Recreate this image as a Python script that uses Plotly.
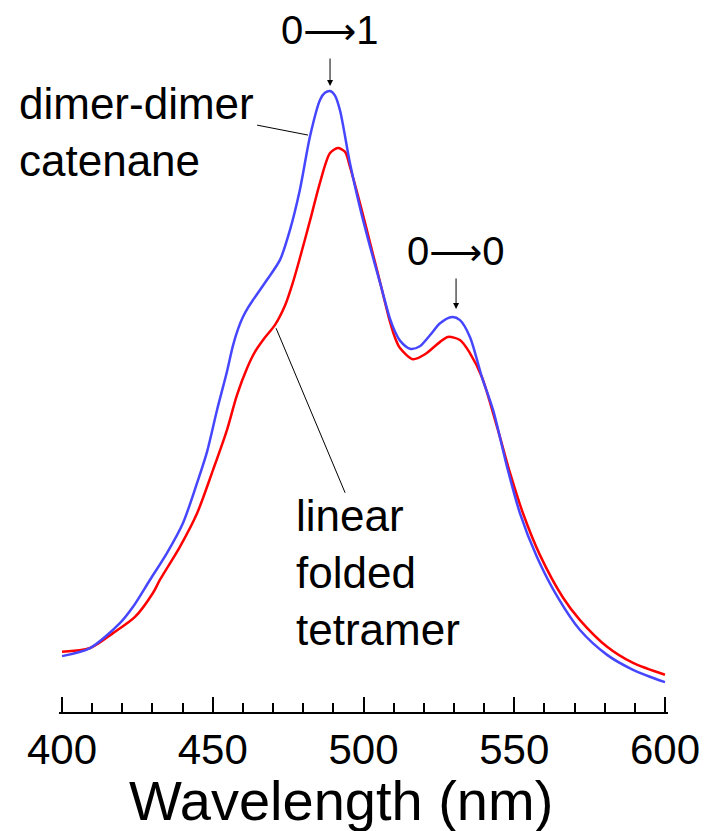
import plotly.graph_objects as go

# Emission spectra (normalised intensity vs wavelength, nm)
wl_catenane = [400.0, 409.3, 419.2, 423.5, 429.2, 434.8, 440.1, 444.8, 448.1, 451.4,
               454.7, 456.7, 458.4, 460.0, 461.7, 463.3, 468.0, 472.3, 475.6, 478.9,
               482.3, 485.6, 487.2, 488.9, 490.5, 492.2, 495.5, 498.8, 502.2, 505.5,
               508.8, 510.5, 512.1, 515.4, 518.7, 522.1, 525.4, 529.4, 532.0, 535.3,
               539.3, 543.0, 547.6, 551.9, 557.5, 564.5, 571.8, 580.8, 589.4, 600.0]
int_catenane = [0.090, 0.103, 0.143, 0.169, 0.213, 0.256, 0.304, 0.369, 0.419, 0.486,
                0.548, 0.590, 0.617, 0.636, 0.651, 0.663, 0.696, 0.728, 0.776, 0.841,
                0.928, 0.986, 0.997, 1.000, 0.993, 0.969, 0.884, 0.813, 0.749, 0.691,
                0.633, 0.612, 0.598, 0.585, 0.589, 0.607, 0.626, 0.636, 0.631, 0.604,
                0.539, 0.486, 0.395, 0.320, 0.250, 0.184, 0.132, 0.092, 0.068, 0.048]

wl_tetramer = [400.0, 409.3, 416.9, 424.2, 430.2, 432.5, 439.1, 444.8, 450.1, 454.7,
               458.0, 461.4, 464.0, 467.3, 470.6, 474.0, 476.6, 478.9, 482.3, 485.6,
               488.9, 491.5, 493.9, 495.5, 498.8, 502.2, 505.5, 508.8, 510.5, 512.1,
               516.4, 520.4, 525.4, 528.0, 532.0, 535.3, 539.3, 544.3, 548.6, 552.9,
               558.5, 566.2, 571.8, 580.8, 589.4, 600.0]
int_tetramer = [0.097, 0.103, 0.127, 0.153, 0.192, 0.213, 0.266, 0.320, 0.390, 0.454,
                0.510, 0.554, 0.580, 0.603, 0.623, 0.655, 0.692, 0.731, 0.792, 0.853,
                0.900, 0.908, 0.902, 0.878, 0.820, 0.755, 0.692, 0.628, 0.602, 0.586,
                0.568, 0.576, 0.596, 0.604, 0.599, 0.578, 0.539, 0.459, 0.385, 0.320,
                0.253, 0.184, 0.148, 0.105, 0.079, 0.060]

FONT = "Liberation Sans, Arial, Helvetica, sans-serif"
ARROW = "<span style='font-family:DejaVu Sans;font-size:37px'>\u27f6</span>"

fig = go.Figure()
fig.add_trace(go.Scatter(x=wl_tetramer, y=int_tetramer, mode="lines",
                         line=dict(color="#ff0000", width=2.5, shape="spline", smoothing=0.8),
                         name="linear folded tetramer"))
fig.add_trace(go.Scatter(x=wl_catenane, y=int_catenane, mode="lines",
                         line=dict(color="#4646ff", width=2.5, shape="spline", smoothing=0.8),
                         name="dimer-dimer catenane"))

# Vibronic band labels with arrows
fig.add_annotation(x=488.9, y=1.008, ax=0, ay=-29, text="", showarrow=True,
                   arrowhead=2, arrowsize=1.2, arrowwidth=1, arrowcolor="black")
fig.add_annotation(x=488.9, y=1.098, text="0" + ARROW + "1", showarrow=False,
                   font=dict(family=FONT, size=40, color="black"),
                   xanchor="center", yanchor="middle")
fig.add_annotation(x=530.7, y=0.649, ax=0, ay=-32, text="", showarrow=True,
                   arrowhead=2, arrowsize=1.2, arrowwidth=1, arrowcolor="black")
fig.add_annotation(x=530.7, y=0.741, text="0" + ARROW + "0", showarrow=False,
                   font=dict(family=FONT, size=40, color="black"),
                   xanchor="center", yanchor="middle")

# Curve labels and their leader lines
fig.add_annotation(xref="paper", yref="y", x=-0.069, y=0.934,
                   text="dimer-dimer<br>catenane", showarrow=False,
                   font=dict(family=FONT, size=44, color="black"),
                   xanchor="left", yanchor="middle", align="left")
fig.add_shape(type="line", x0=464.7, y0=0.945, x1=481.6, y1=0.929,
              line=dict(color="black", width=1))
fig.add_annotation(x=477.0, y=0.225, text="linear<br>folded<br>tetramer", showarrow=False,
                   font=dict(family=FONT, size=44, color="black"),
                   xanchor="left", yanchor="middle", align="left")
fig.add_shape(type="line", x0=471.0, y0=0.618, x1=493.9, y1=0.353,
              line=dict(color="black", width=1))

# Axis title
fig.add_annotation(xref="paper", yref="paper", x=0.463, y=-0.1236,
                   text="Wavelength (nm)", showarrow=False,
                   font=dict(family=FONT, size=56, color="black"),
                   xanchor="center", yanchor="middle")

fig.update_layout(
    width=706, height=831,
    margin=dict(l=59, r=38, t=0, b=119),
    paper_bgcolor="white", plot_bgcolor="white",
    showlegend=False,
    font=dict(family=FONT, color="black"),
)
fig.update_xaxes(
    range=[399, 601], showgrid=False, zeroline=False,
    showline=True, linecolor="black", linewidth=1.5,
    tickmode="linear", tick0=400, dtick=50,
    ticks="inside", ticklen=15, tickwidth=1.5, tickcolor="black",
    tickfont=dict(family=FONT, size=42, color="black"),
    minor=dict(tick0=400, dtick=10, ticks="inside", ticklen=9, tickwidth=1.5,
               tickcolor="black", showgrid=False),
)
fig.update_yaxes(range=[0, 1.1465], visible=False)

fig.write_html("out.html")
